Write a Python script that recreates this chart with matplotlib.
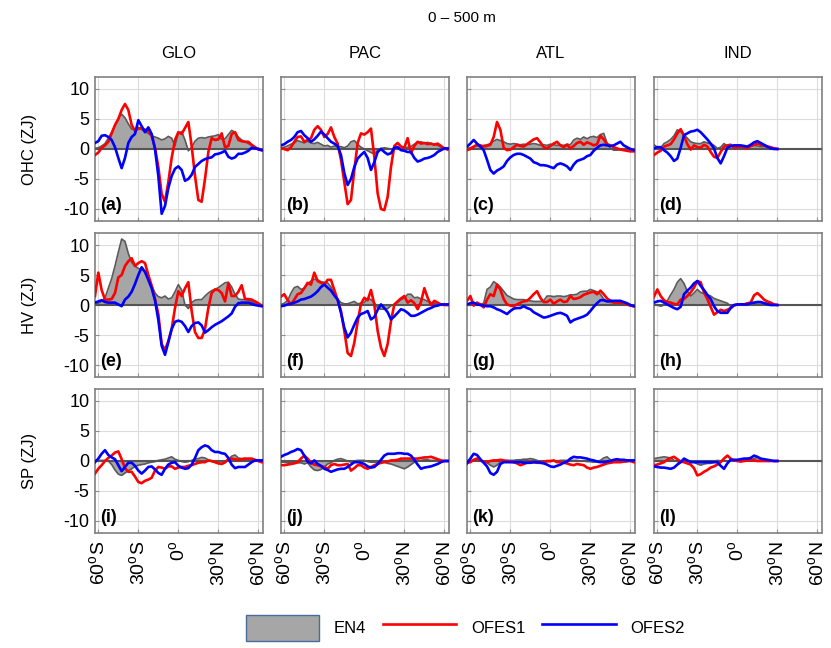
import numpy as np
import matplotlib
matplotlib.use("Agg")
import matplotlib.pyplot as plt
from matplotlib.patches import Patch
from matplotlib.lines import Line2D

plt.rcParams['font.family'] = ['Liberation Sans', 'DejaVu Sans']
plt.rcParams['mathtext.fontset'] = 'custom'
plt.rcParams['mathtext.rm'] = 'Liberation Sans'

# latitude grids (deg); IND basin stops near 30N
lat = np.arange(-62.5, 63, 2.5)
lat_ind = np.arange(-62.5, 31, 2.5)

regions = ['GLO', 'PAC', 'ATL', 'IND']
rows = ['OHC (ZJ)', 'HV (ZJ)', 'SP (ZJ)']
letters = 'abcdefghijkl'
xticks = [-60, -30, 0, 30, 60]
xticklabels = ['60$^\\mathrm{o}$S', '30$^\\mathrm{o}$S', '0$^\\mathrm{o}$',
               '30$^\\mathrm{o}$N', '60$^\\mathrm{o}$N']
yticks = [-10, -5, 0, 5, 10]

# ---- OHC ----
en4_ohc_glo = [0.1, 0.2, 0.5, 0.9, 1.8, 2.8, 3.8, 5.1, 5.8, 5.2,
               4.2, 3.3, 3.3, 3.6, 3.2, 2.9, 2.6, 2.2, 2.0, 1.8,
               1.5, 1.7, 2.1, 1.8, 0.5, 2.6, 2.9, 1.5, -0.3, 0.3,
               1.3, 1.8, 1.9, 1.8, 2.0, 2.1, 2.2, 2.4, 1.6, 1.7,
               2.4, 3.1, 2.8, 2.0, 1.5, 1.2, 0.9, 0.6, 0.3, 0.1, 0.0]
ofes1_ohc_glo = [-1.0, -0.6, 0.2, 0.6, 1.2, 2.6, 4.0, 5.0, 6.5, 7.5,
                 6.5, 4.0, 3.0, 3.4, 3.5, 3.2, 3.0, 2.2, 0.2, -3.0,
                 -7.5, -8.8, -5.5, -1.5, 1.5, 2.8, 2.5, 3.5, 4.5, 0.5,
                 -4.5, -8.5, -8.8, -5.0, -0.5, 1.8, 1.5, 1.6, 2.6, 0.3,
                 0.5, 2.5, 2.8, 1.5, 1.3, 1.2, 1.2, 0.7, 0.3, -0.1, -0.2]
ofes2_ohc_glo = [1.0, 1.3, 2.2, 2.3, 2.0, 1.5, 0.3, -1.5, -3.2, -1.5,
                 1.0, 2.0, 2.5, 4.8, 3.8, 2.8, 3.6, 2.5, 0.0, -4.5,
                 -10.8, -9.5, -6.5, -4.5, -3.3, -2.9, -3.5, -5.3, -5.0, -4.3,
                 -3.0, -2.5, -2.0, -1.7, -1.5, -1.4, -0.9, -0.8, -0.6, -0.3,
                 -1.3, -1.6, -1.4, -0.8, -0.8, -0.6, -0.3, 0.2, 0.1, 0.0, -0.2]

en4_ohc_pac = [0.2, 0.3, 0.5, 0.8, 1.0, 1.4, 1.2, 1.0, 1.3, 1.0,
               0.9, 1.1, 0.8, 0.5, 0.6, 0.3, 0.5, 0.3, 0.4, 0.2,
               0.5, 1.2, 1.4, 0.8, 0.3, 0.0, -0.3, -0.6, -0.8, -0.3,
               0.1, 0.2, 0.1, 0.0, 0.1, 0.2, 0.0, 0.2, 0.3, 0.4,
               0.8, 1.1, 1.2, 1.0, 1.1, 0.9, 0.8, 0.6, 0.3, 0.1, 0.0]
ofes1_ohc_pac = [0.1, 0.0, -0.2, 0.3, 1.2, 2.0, 2.1, 1.2, 1.5, 1.8,
                 3.2, 3.8, 3.2, 2.0, 2.5, 3.6, 2.0, 0.9, -1.8, -5.5,
                 -9.2, -8.5, -3.5, 1.0, 2.6, 2.4, 2.8, 3.4, -1.3, -7.4,
                 -10.0, -10.2, -8.0, -3.0, 0.5, 1.0, 0.4, 0.2, 1.8, -0.7,
                 0.5, 1.2, 0.9, 1.0, 0.8, 0.9, 0.7, 0.9, 0.5, 0.1, -0.1]
ofes2_ohc_pac = [0.6, 0.8, 1.2, 1.5, 2.0, 2.8, 3.0, 2.3, 1.8, 1.2,
                 1.6, 2.2, 2.9, 2.4, 1.8, 1.2, 0.9, 0.5, -1.0, -4.0,
                 -6.0, -5.0, -3.0, -1.6, -1.0, -0.5, -1.5, -3.5, -2.2, -0.5,
                 0.0, -0.5, -0.9, -0.7, 0.2, 0.3, -0.2, -0.3, -0.5, -0.5,
                 -1.5, -2.1, -1.9, -1.6, -1.5, -1.3, -1.0, -0.5, -0.2, 0.1, 0.1]

en4_ohc_atl = [0.1, 0.2, 0.4, 0.5, 0.5, 0.6, 0.7, 0.9, 1.3, 1.6,
               1.4, 1.2, 0.9, 0.8, 0.9, 0.8, 0.7, 0.8, 0.7, 0.8,
               0.9, 0.8, 0.6, 0.7, 0.6, 0.8, 0.7, 0.6, 0.7, 0.6,
               0.8, 0.7, 1.5, 1.8, 1.6, 2.0, 1.7, 2.0, 2.1, 1.9,
               2.4, 2.6, 1.0, 0.1, -0.2, -0.2, -0.1, -0.2, -0.1, -0.2, -0.3]
ofes1_ohc_atl = [-0.2, 0.0, 0.4, 0.7, 0.6, 0.4, 0.5, 0.7, 2.0, 4.5,
                 3.2, 0.2, -0.2, -0.1, 0.3, 0.7, 0.5, 0.4, 0.8, 1.2,
                 1.6, 1.8, 1.1, 0.3, 0.1, 0.5, 0.9, 1.2, 0.6, 0.3,
                 0.7, 0.1, 0.5, 1.0, 1.2, 0.7, 1.1, 0.9, 0.6, 0.8,
                 2.2, 1.6, 0.8, 0.6, 0.3, 0.1, -0.1, -0.2, -0.3, -0.4, -0.4]
ofes2_ohc_atl = [0.4, 0.9, 1.5, 0.9, 0.4, -0.2, -1.8, -3.5, -4.1, -3.6,
                 -3.3, -2.9, -2.0, -1.4, -1.0, -0.8, -0.8, -1.0, -1.3, -1.6,
                 -2.2, -2.4, -2.7, -2.7, -2.8, -3.0, -3.2, -2.6, -2.4, -2.6,
                 -2.9, -3.5, -2.6, -2.0, -1.8, -1.6, -1.2, -1.0, -0.3, 0.2,
                 0.6, 0.7, 0.6, 0.5, 0.6, 0.9, 1.2, 0.6, 0.3, 0.0, -0.2]

en4_ohc_ind = [0.7, 0.3, 0.2, 0.9, 1.2, 1.6, 2.2, 3.2, 2.9, 2.4,
               1.8, 1.2, 1.0, 0.9, 0.9, 1.2, 1.0, 0.9, 0.6, 0.1,
               0.3, 0.9, 0.5, 0.1, 0.1, 0.2, 0.1, 0.1, 0.2, 0.4,
               0.6, 0.5, 0.4, 0.4, 0.3, 0.2, 0.1, 0.0]
ofes1_ohc_ind = [-1.0, -0.6, -0.3, 0.4, 0.6, 0.8, 1.6, 2.6, 3.3, 2.2,
                 0.8, -0.1, 0.6, 0.3, 0.2, 0.7, 0.4, -0.5, -1.3, -1.5,
                 -0.5, 0.4, 0.6, 0.7, 0.2, 0.3, 0.4, 0.3, 0.1, 0.5,
                 0.7, 0.9, 0.7, 0.6, 0.4, 0.3, 0.1, 0.0]
ofes2_ohc_ind = [0.1, 0.3, 0.3, -0.2, -0.6, -1.2, -2.0, -1.6, 0.2, 2.3,
                 2.6, 2.9, 3.0, 3.2, 2.8, 2.2, 1.6, 0.9, 0.1, -1.5,
                 -2.4, -1.2, 0.2, 0.5, 0.6, 0.6, 0.6, 0.5, 0.4, 0.7,
                 1.1, 1.3, 1.0, 0.7, 0.4, 0.1, 0.0, 0.0]

# ---- HV ----
en4_hv_glo = [0.1, 0.3, 0.6, 1.2, 2.8, 4.4, 6.5, 8.8, 11.0, 10.6,
              8.6, 7.1, 6.5, 6.1, 5.9, 5.7, 4.5, 3.3, 2.0, 1.4,
              1.2, 1.5, 1.0, 1.2, 2.2, 3.4, 2.5, 0.0, -0.6, 0.4,
              0.8, 0.9, 0.9, 1.5, 2.0, 2.4, 2.6, 2.9, 3.3, 3.7,
              3.8, 3.0, 1.8, 1.0, 0.9, 0.9, 0.8, 0.6, 0.3, 0.1, 0.0]
ofes1_hv_glo = [1.5, 5.4, 2.5, 0.9, 0.9, 1.0, 2.0, 4.6, 5.0, 6.5,
                7.3, 7.8, 6.5, 7.0, 7.3, 7.0, 5.0, 3.2, 1.0, -1.5,
                -6.5, -7.5, -6.0, -4.0, -0.5, 2.3, 1.5, 2.8, 3.8, -1.0,
                -4.5, -5.5, -5.5, -4.0, -0.5, 2.0, 2.6, 2.5, 2.0, 0.6,
                3.6, 1.5, 1.5, 2.2, 3.3, 1.0, 1.0, 0.9, 0.6, 0.3, -0.1]
ofes2_hv_glo = [0.4, 0.6, 0.8, 0.5, 0.4, 0.4, 0.4, 0.1, -0.2, 0.9,
                1.4, 2.2, 3.5, 5.0, 6.3, 5.5, 4.2, 2.8, 0.8, -2.5,
                -6.8, -8.3, -6.2, -4.0, -2.8, -2.6, -2.8, -3.5, -4.5, -3.5,
                -3.0, -2.9, -3.4, -4.6, -4.2, -3.7, -3.3, -3.0, -2.7, -2.3,
                -1.9, -1.4, -0.3, 0.3, 0.4, 0.4, 0.4, 0.2, 0.0, -0.1, -0.2]

en4_hv_pac = [0.1, 0.3, 0.7, 2.0, 2.9, 3.1, 2.6, 2.8, 3.5, 4.0,
              4.3, 4.2, 3.9, 3.8, 3.7, 3.0, 1.8, 1.0, 0.4, 0.2,
              0.2, 0.4, 0.6, 0.2, 0.3, 0.4, 1.1, 0.9, 0.4, -0.5,
              -0.7, -0.7, -0.6, -0.1, 0.1, 0.4, 0.9, 1.1, 1.8, 1.8,
              1.2, 1.3, 1.0, 0.9, 0.6, 0.4, 0.3, 0.1, 0.1, 0.0, 0.0]
ofes1_hv_pac = [1.4, 1.8, 0.8, 0.1, 0.9, 1.8, 2.0, 2.8, 3.7, 3.4,
                5.4, 4.0, 3.7, 3.4, 4.2, 4.2, 2.5, 0.8, -1.0, -4.3,
                -8.0, -8.5, -6.3, -2.8, 0.2, 1.2, 0.8, 2.5, 0.1, -4.3,
                -7.1, -8.5, -6.5, -2.7, 0.1, 0.6, 1.1, 1.5, 0.4, 0.8,
                0.3, -0.7, 0.5, 2.8, 1.2, 0.0, 0.7, 0.4, 0.1, 0.0, 0.0]
ofes2_hv_pac = [-0.2, -0.1, 0.1, 0.2, 0.4, 0.6, 0.9, 1.0, 1.2, 1.4,
                1.8, 2.3, 3.0, 3.4, 2.9, 2.4, 1.6, 0.9, -1.3, -3.8,
                -5.4, -4.6, -3.3, -2.1, -1.5, -1.3, -1.0, -2.4, -2.0, -0.8,
                0.1, -0.5, -1.2, -2.4, -1.9, -1.3, -0.7, -0.9, -1.3, -1.8,
                -1.8, -1.6, -1.3, -1.0, -0.7, -0.5, -0.2, -0.1, 0.1, 0.1, 0.1]

en4_hv_atl = [0.1, 0.1, 0.1, 0.1, 0.1, 0.3, 2.6, 3.0, 3.9, 3.5,
              3.0, 2.3, 1.6, 1.3, 1.0, 0.9, 0.9, 0.9, 0.8, 0.7,
              0.6, 0.6, 0.6, 0.7, 1.5, 1.5, 1.4, 1.5, 1.5, 1.4,
              1.5, 1.7, 1.7, 1.8, 2.2, 2.3, 2.3, 2.6, 2.4, 2.2,
              1.8, 1.0, 0.6, 0.4, 0.4, 0.4, 0.3, 0.2, 0.1, 0.0, -0.1]
ofes1_hv_atl = [0.7, 1.5, -0.1, 0.4, 0.1, -0.4, 0.9, 1.8, 1.5, 3.4,
                2.6, 1.0, 0.1, -0.1, -0.2, 0.1, 0.4, 0.6, 0.7, 1.2,
                1.8, 2.3, 1.2, 0.5, 0.5, 0.9, 0.2, 0.6, 0.9, 0.5,
                0.6, 1.5, 1.0, 1.1, 1.3, 1.7, 1.9, 2.1, 2.2, 1.8,
                2.4, 1.8, 1.1, 0.7, 0.4, 0.4, 0.4, 0.3, 0.1, -0.1, -0.2]
ofes2_hv_atl = [0.1, 0.3, 0.4, 0.1, 0.0, -0.1, -0.2, -0.2, -0.4, -0.7,
                -0.9, -1.2, -1.5, -1.0, -0.6, -0.5, -0.5, -0.2, -0.5, -0.7,
                -1.2, -1.5, -1.8, -2.1, -2.0, -1.8, -1.6, -1.4, -1.3, -1.5,
                -1.8, -2.9, -2.5, -2.3, -2.1, -1.9, -1.6, -1.0, -0.3, 0.3,
                0.8, 0.8, 0.6, 0.7, 0.7, 0.7, 0.7, 0.5, 0.3, 0.0, -0.2]

en4_hv_ind = [0.1, 0.0, -0.2, 0.0, 0.7, 1.7, 2.6, 3.8, 4.4, 3.6,
              2.3, 1.5, 2.0, 2.6, 2.1, 1.9, 1.7, 1.5, 1.1, 0.9,
              0.7, 0.5, 0.3, -0.2, 0.0, 0.1, 0.1, 0.1, 0.1, 0.1,
              0.3, 0.4, 0.4, 0.4, 0.3, 0.1, 0.0, 0.0]
ofes1_hv_ind = [1.4, 2.6, 1.5, 0.8, 0.5, 0.4, 0.2, 0.1, 0.9, 1.0,
                1.5, 2.1, 2.9, 4.0, 3.8, 2.1, 1.0, -0.3, -1.6, -1.2,
                -0.8, -1.0, -0.8, -0.5, -0.1, 0.1, 0.1, 0.1, 0.3, 0.4,
                1.6, 2.0, 1.5, 0.9, 0.6, 0.4, 0.1, 0.0]
ofes2_hv_ind = [0.4, 0.6, 0.7, 0.4, 0.1, -0.2, -0.5, -0.7, -0.3, 1.8,
                2.4, 2.9, 3.6, 4.0, 3.2, 2.5, 1.7, 1.0, -0.2, -1.0,
                -1.3, -1.3, -1.3, -0.5, 0.0, 0.1, 0.1, 0.1, 0.1, 0.3,
                0.4, 0.5, 0.5, 0.3, 0.1, 0.0, 0.0, 0.0]

# ---- SP ----
en4_sp_glo = [0.1, 0.1, 0.1, 0.1, 0.0, -0.6, -1.5, -2.2, -2.4, -2.0,
              -1.6, -1.3, -0.9, -0.7, -0.6, -0.5, -0.3, -0.2, -0.1, 0.1,
              0.2, 0.3, 0.5, 0.7, 0.3, 0.1, -0.1, -0.2, -0.1, 0.1,
              0.3, 0.4, 0.6, 0.5, 0.2, -0.1, -0.2, -0.4, -0.5, -0.3,
              0.2, 0.8, 1.0, 0.5, 0.4, 0.4, 0.3, 0.2, 0.1, 0.0, 0.0]
ofes1_sp_glo = [-2.1, -1.3, -0.7, 0.0, 0.5, 0.9, 1.4, 1.6, 0.3, -1.2,
                -1.8, -1.8, -2.6, -3.5, -3.7, -3.3, -3.1, -2.8, -1.6, -1.0,
                -1.1, -1.3, -0.9, -0.9, -1.3, -1.1, -1.0, -1.0, -0.8, -0.7,
                -0.5, -0.3, -0.2, -0.2, 0.1, 0.0, -0.2, -0.4, -0.5, -0.2,
                0.3, 0.4, 0.3, 0.2, 0.3, 0.4, 0.4, 0.4, 0.2, 0.0, -0.2]
ofes2_sp_glo = [-0.2, 0.4, 1.2, 1.8, 1.0, 0.6, 0.3, -0.7, -1.7, -1.0,
                -0.3, -0.3, -0.8, -1.6, -2.1, -1.6, -1.0, -0.9, -1.4, -2.0,
                -2.3, -1.3, -0.6, -0.3, -0.2, -0.8, -1.1, -1.3, -1.2, -0.6,
                0.5, 1.8, 2.3, 2.6, 2.4, 1.8, 1.5, 1.5, 1.3, 1.2,
                0.5, -0.6, -1.2, -1.0, -1.0, -1.0, -0.6, -0.2, 0.1, 0.1, 0.1]

en4_sp_pac = [-0.2, -0.2, -0.3, -0.3, -0.3, -0.3, -0.3, -0.5, -0.3, -1.0,
              -1.5, -1.6, -1.4, -1.0, -0.5, -0.3, 0.1, 0.3, 0.4, 0.2,
              0.0, -0.2, 0.0, 0.1, 0.1, 0.1, -0.1, -0.2, -0.2, -0.2,
              -0.2, -0.2, -0.4, -0.5, -0.7, -0.9, -1.1, -1.3, -1.0, -0.6,
              -0.2, 0.0, 0.1, 0.2, 0.2, 0.1, 0.1, 0.1, 0.1, 0.0, 0.0]
ofes1_sp_pac = [-0.7, -0.7, -0.6, -0.5, -0.4, -0.2, 0.4, 0.9, 0.4, -0.3,
                -0.6, -0.7, -0.9, -1.0, -1.3, -0.7, -0.5, -0.7, -0.7, -0.6,
                -0.5, -1.6, -1.2, -0.7, -0.7, -1.1, -1.3, -1.0, -0.7, -0.5,
                -0.3, -0.2, -0.1, 0.1, 0.1, 0.2, 0.4, 0.4, 0.4, 0.4,
                0.4, 0.4, 0.5, 0.6, 0.6, 0.7, 0.5, 0.3, 0.1, 0.0, 0.0]
ofes2_sp_pac = [0.7, 1.0, 1.2, 1.5, 1.7, 2.0, 1.8, 0.9, -0.1, -0.4,
                0.1, -0.5, -0.8, -1.3, -1.5, -1.8, -1.6, -1.4, -1.3, -1.3,
                -1.0, -0.6, -0.2, -0.2, -0.3, -0.5, -0.9, -1.1, -1.0, -0.5,
                0.2, 0.9, 1.2, 1.2, 1.2, 1.3, 1.3, 1.2, 1.2, 0.9,
                0.2, -0.6, -1.3, -1.1, -1.0, -0.9, -0.7, -0.5, -0.2, 0.0, 0.0]

en4_sp_atl = [0.1, 0.1, 0.1, 0.1, 0.0, -0.2, -0.3, -0.7, -1.0, -0.7,
              -0.2, -0.1, 0.1, 0.1, 0.1, 0.2, 0.2, 0.3, 0.3, 0.4,
              0.3, 0.1, -0.1, -0.2, -0.1, -0.1, 0.0, 0.0, 0.1, 0.1,
              0.1, 0.1, 0.1, 0.1, 0.0, 0.0, -0.1, -0.1, -0.2, -0.1,
              0.1, 0.5, 0.7, 0.2, -0.1, -0.2, -0.2, -0.2, -0.1, 0.0, 0.0]
ofes1_sp_atl = [-0.3, -0.2, 0.2, 0.4, 0.1, -0.1, -0.2, 0.0, 0.1, 0.1,
                0.2, 0.1, 0.0, -0.1, -0.2, -0.4, -0.7, -0.5, -0.3, -0.2,
                -0.2, -0.3, -0.3, -0.2, 0.0, 0.0, 0.1, -0.2, -0.2, -0.3,
                -0.4, -0.6, -0.7, -0.5, -0.6, -0.7, -1.1, -1.3, -1.1, -1.0,
                -0.8, -0.6, -0.4, -0.3, -0.2, -0.2, -0.2, -0.1, 0.0, 0.0, -0.2]
ofes2_sp_atl = [-0.4, 0.4, 1.2, 1.0, 0.3, -0.3, -0.9, -2.0, -2.3, -1.8,
                -0.5, -0.2, -0.2, -0.2, -0.2, -0.2, -0.2, -0.3, -0.3, -0.3,
                -0.2, -0.2, -0.3, -0.4, -0.6, -0.9, -1.0, -0.8, -0.6, -0.3,
                -0.1, 0.4, 0.7, 0.6, 0.6, 0.5, 0.4, 0.2, 0.1, -0.1,
                -0.2, -0.2, -0.1, 0.0, 0.2, 0.3, 0.2, 0.2, 0.1, 0.1, 0.1]

en4_sp_ind = [0.4, 0.5, 0.6, 0.7, 0.6, 0.5, 0.1, -0.1, -0.2, -0.1,
              0.0, -0.1, -0.2, -0.5, -0.7, -0.5, -0.4, -0.4, -0.2, 0.1,
              0.0, 0.0, 0.0, 0.0, 0.1, 0.1, 0.1, 0.1, 0.2, 0.2,
              0.4, 0.6, 0.4, 0.2, 0.1, 0.0, 0.0, 0.0]
ofes1_sp_ind = [-0.7, -0.6, -0.4, -0.2, 0.2, 0.5, 0.7, 0.3, -0.1, -0.2,
                -0.4, -0.6, -1.2, -2.4, -2.2, -1.8, -1.5, -1.1, -0.9, -0.6,
                -0.2, 0.4, 0.9, 0.4, 0.1, 0.0, -0.1, 0.0, 0.1, 0.1,
                0.1, 0.0, 0.0, 0.0, 0.0, 0.0, 0.0, 0.0]
ofes2_sp_ind = [-0.9, -1.0, -1.1, -1.1, -1.2, -1.3, -1.1, -0.6, -0.2, 0.4,
                0.1, -0.2, -0.2, -0.2, -0.2, -0.2, -0.2, -0.2, -0.2, -0.2,
                -0.8, -1.3, -0.4, 0.2, 0.2, 0.2, 0.3, 0.4, 0.4, 0.5,
                0.9, 0.7, 0.4, 0.3, 0.2, 0.1, 0.0, 0.0]

panels = [
    [(en4_ohc_glo, ofes1_ohc_glo, ofes2_ohc_glo), (en4_ohc_pac, ofes1_ohc_pac, ofes2_ohc_pac),
     (en4_ohc_atl, ofes1_ohc_atl, ofes2_ohc_atl), (en4_ohc_ind, ofes1_ohc_ind, ofes2_ohc_ind)],
    [(en4_hv_glo, ofes1_hv_glo, ofes2_hv_glo), (en4_hv_pac, ofes1_hv_pac, ofes2_hv_pac),
     (en4_hv_atl, ofes1_hv_atl, ofes2_hv_atl), (en4_hv_ind, ofes1_hv_ind, ofes2_hv_ind)],
    [(en4_sp_glo, ofes1_sp_glo, ofes2_sp_glo), (en4_sp_pac, ofes1_sp_pac, ofes2_sp_pac),
     (en4_sp_atl, ofes1_sp_atl, ofes2_sp_atl), (en4_sp_ind, ofes1_sp_ind, ofes2_sp_ind)],
]

fill_c = '#a6a6a6'
edge_c = '#5a5a5a'
red = '#ff0000'
blue = '#0000ff'

fig = plt.figure(figsize=(8.31, 6.48), dpi=100)

lefts = [0.1143, 0.3381, 0.5620, 0.7870]
bottoms = [0.6590, 0.4182, 0.1775]
w, h = 0.2022, 0.2222

for r in range(3):
    for c in range(4):
        ax = fig.add_axes([lefts[c], bottoms[r], w, h])
        en4, o1, o2 = panels[r][c]
        x = lat_ind if c == 3 else lat
        ax.fill_between(x, 0, en4, color=fill_c, lw=0, zorder=2)
        ax.plot(x, en4, color=edge_c, lw=1.2, zorder=3)
        ax.axhline(0, color='#555555', lw=1.5, zorder=3)
        ax.plot(x, o1, color=red, lw=1.9, zorder=4)
        ax.plot(x, o2, color=blue, lw=1.9, zorder=5)

        ax.set_xlim(-62.5, 63.5)
        ax.set_ylim(-12, 12)
        ax.set_xticks(xticks)
        ax.set_yticks(yticks)
        ax.grid(True, color='#dcdcdc', lw=0.8, zorder=0)
        ax.set_axisbelow(True)
        for s in ax.spines.values():
            s.set_color('#808080')
            s.set_linewidth(1.2)
        ax.tick_params(direction='in', length=3, color='#909090', labelsize=13)
        if c == 0:
            ax.set_yticklabels([str(v) for v in yticks])
            ax.tick_params(axis='y', pad=4)
        else:
            ax.set_yticklabels([])
        if r == 2:
            ax.set_xticklabels(xticklabels, rotation=90, fontsize=14)
            ax.tick_params(axis='x', pad=6)
        else:
            ax.set_xticklabels([])
        ax.text(0.03, 0.05, '(%s)' % letters[r * 4 + c], transform=ax.transAxes,
                fontsize=13, fontweight='bold', ha='left', va='bottom', zorder=6)

        if r == 0:
            fig.text(lefts[c] + w / 2, 0.918, regions[c], ha='center', va='center', fontsize=12)
    fig.text(0.036, bottoms[r] + h / 2, rows[r], rotation=90, ha='center', va='center', fontsize=12)

fig.text(0.556, 0.972, '0 \u2013 500 m', ha='center', va='center', fontsize=11)

handles = [Patch(facecolor=fill_c, edgecolor='#4a6a9a', lw=1.0),
           Line2D([], [], color=red, lw=1.9),
           Line2D([], [], color=blue, lw=1.9)]
fig.legend(handles, ['EN4', 'OFES1', 'OFES2'], loc='center',
           bbox_to_anchor=(0.56, 0.031), ncol=3, frameon=False, fontsize=12,
           handlelength=4.4, handleheight=2.0, handletextpad=0.9, columnspacing=1.0)

fig.savefig('out.png', dpi=100)
